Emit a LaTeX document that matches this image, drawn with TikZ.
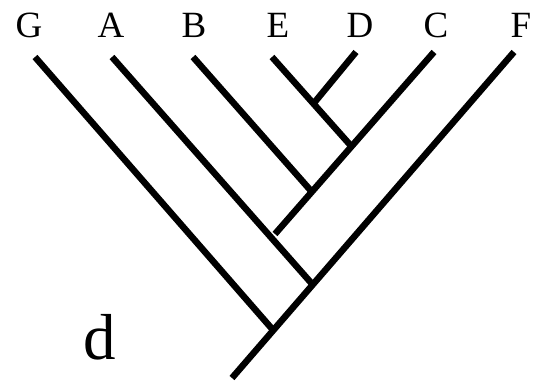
\documentclass[tikz,border=0pt]{standalone}
\usepackage{fontspec}
\setmainfont{Liberation Serif}
\begin{document}
\begin{tikzpicture}[x=1pt,y=-1pt,
  branch/.style={line width=6.5pt, line cap=butt},
  taxon/.style={anchor=base, font=\fontsize{37}{40}\selectfont, inner sep=0pt}]
\useasboundingbox (0,0) rectangle (542,385);
% tips
\coordinate (tG) at (35,57);
\coordinate (tA) at (112,57);
\coordinate (tB) at (193,57);
\coordinate (tE) at (272,57);
\coordinate (tD) at (356,52);
\coordinate (tC) at (434,52);
\coordinate (tF) at (514,52);
% junctions
\coordinate (jDE) at (314,103);
\coordinate (jEC) at (352,147);
\coordinate (jBC) at (312,192);
\coordinate (jCA) at (275,234);
\coordinate (jAF) at (313,285);
\coordinate (jGF) at (273,330);
\coordinate (root) at (232,378);
% labels
\node[taxon] (lG) at (29,38) {G};
\node[taxon] (lA) at (111,38) {A};
\node[taxon] (lB) at (194,38) {B};
\node[taxon] (lE) at (278,38) {E};
\node[taxon] (lD) at (360,38) {D};
\node[taxon] (lC) at (436,38) {C};
\node[taxon] (lF) at (521,38) {F};
\node[anchor=base, font=\fontsize{65}{70}\selectfont, inner sep=0pt] (d) at (100,360) {d};
% branches
\draw[branch] (root) -- (tF);
\draw[branch] (tG) -- (jGF);
\draw[branch] (tA) -- (jAF);
\draw[branch] (tC) -- (jCA);
\draw[branch] (tB) -- (jBC);
\draw[branch] (tE) -- (jEC);
\draw[branch] (tD) -- (jDE);
\end{tikzpicture}
\end{document}
